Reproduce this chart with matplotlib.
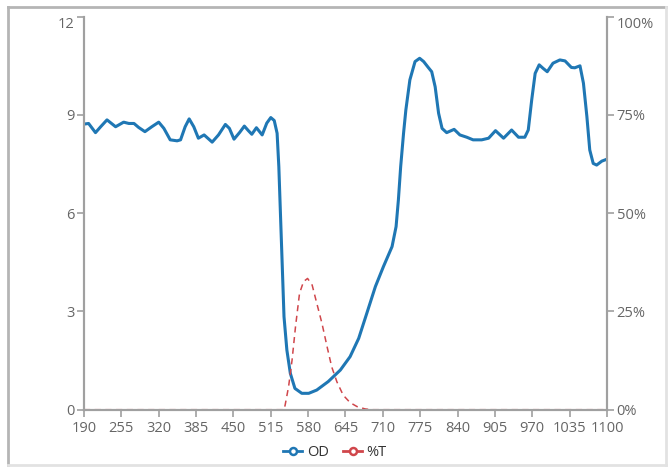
import matplotlib
matplotlib.use("Agg")
import matplotlib.pyplot as plt
from matplotlib.lines import Line2D

# OD curve (left axis)
od_wl = [190, 198, 210, 219, 230, 245, 259, 268, 277, 285, 296, 308, 320, 329, 340,
         352, 358, 366, 373, 381, 389, 399, 413, 424, 436, 443, 451, 461, 469, 476,
         482, 490, 500, 508, 515, 521, 526, 529, 532, 535, 538, 543, 549, 557, 569,
         581, 595, 615, 636, 653, 668, 682, 697, 711, 726, 733, 737, 741, 746, 750,
         757, 766, 774, 781, 789, 795, 801, 807, 813, 821, 834, 844, 856, 867, 882,
         894, 906, 920, 934, 946, 957, 963, 969, 975, 982, 989, 996, 1006, 1018,
         1027, 1038, 1044, 1053, 1059, 1065, 1070, 1076, 1082, 1091, 1100]
od_val = [8.72, 8.74, 8.46, 8.64, 8.85, 8.64, 8.78, 8.74, 8.74, 8.62, 8.49, 8.64, 8.78,
          8.59, 8.24, 8.21, 8.24, 8.64, 8.88, 8.64, 8.29, 8.39, 8.17, 8.39, 8.71, 8.59,
          8.26, 8.47, 8.66, 8.52, 8.41, 8.61, 8.39, 8.75, 8.92, 8.83, 8.44, 7.42, 5.89,
          4.37, 2.84, 1.82, 1.11, 0.65, 0.50, 0.50, 0.60, 0.86, 1.21, 1.62, 2.18, 2.94,
          3.76, 4.37, 4.98, 5.59, 6.40, 7.42, 8.44, 9.15, 10.07, 10.63, 10.73, 10.63,
          10.45, 10.32, 9.86, 9.05, 8.59, 8.46, 8.56, 8.39, 8.32, 8.24, 8.24, 8.29, 8.52,
          8.29, 8.54, 8.32, 8.32, 8.54, 9.46, 10.27, 10.53, 10.42, 10.32, 10.58, 10.68,
          10.65, 10.45, 10.44, 10.50, 9.97, 8.95, 7.93, 7.52, 7.47, 7.59, 7.65]

# %T curve (right axis)
t_wl = [190, 538, 540, 546, 552, 558, 565, 572, 579, 587, 595, 604, 613, 621, 630,
        641, 653, 665, 679, 690, 1100]
t_val = [0, 0, 1.2, 5.9, 12.6, 21.1, 29.6, 32.6, 33.4, 31.7, 27.1, 22.0, 16.0, 10.9,
         7.1, 3.7, 1.8, 0.8, 0.2, 0, 0]

x_ticks = list(range(190, 1101, 65))
od_ticks = [0, 3, 6, 9, 12]
t_ticks = [0, 25, 50, 75, 100]

blue = "#1f77b4"
red = "#d0464b"
axis_gray = "#a0a0a0"
label_gray = "#666666"

plt.rcParams["font.family"] = ["Open Sans", "DejaVu Sans"]

fig = plt.figure(figsize=(6.69, 4.70), dpi=100)
ax = fig.add_axes([84 / 669, 1 - 409.7 / 470, (607 - 84) / 669, (409.7 - 16.7) / 470])
ax2 = ax.twinx()

ax.plot(od_wl, od_val, color=blue, linewidth=2.2, zorder=3,
        solid_joinstyle="round", solid_capstyle="round")
ax2.plot(t_wl, t_val, color=red, linewidth=1.1, linestyle=(0, (4, 3)), zorder=2)

ax.set_xlim(190, 1100)
ax.set_ylim(0, 12)
ax2.set_ylim(0, 100)
ax.set_xticks(x_ticks)
ax.set_yticks(od_ticks)
ax2.set_yticks(t_ticks)
ax2.set_yticklabels([f"{t}%" for t in t_ticks])

for a in (ax, ax2):
    a.spines["top"].set_visible(False)
    for s in ("left", "right", "bottom"):
        a.spines[s].set_color(axis_gray)
        a.spines[s].set_linewidth(1.5)
    a.tick_params(colors=axis_gray, labelcolor=label_gray, labelsize=10.5,
                  length=5, width=1.2, direction="out")
ax.tick_params(axis="x", pad=3)
ax.tick_params(axis="y", pad=2)
ax2.tick_params(axis="y", pad=2)

# top labels sit just under their tick
for lab in (ax.get_yticklabels()[-1], ax2.get_yticklabels()[-1]):
    lab.set_verticalalignment("top")

handles = [
    Line2D([], [], color=blue, linewidth=2, marker="o", markersize=5,
           markerfacecolor="white", markeredgewidth=1.8),
    Line2D([], [], color=red, linewidth=2, marker="o", markersize=5,
           markerfacecolor="white", markeredgewidth=1.8),
]
fig.legend(handles, ["OD", "%T"], loc="center", bbox_to_anchor=(335 / 669, 1 - 453 / 470),
           ncol=2, frameon=False, fontsize=10.5, handlelength=1.3, handletextpad=0.3,
           columnspacing=1.0, labelcolor="#333333")

# outer frame
fig.add_artist(Line2D([8 / 669, 8 / 669], [1 - 465 / 470, 1 - 7 / 470], color="#b5b5b5",
                      linewidth=2, transform=fig.transFigure))
fig.add_artist(Line2D([8 / 669, 666 / 669], [1 - 7 / 470, 1 - 7 / 470], color="#b5b5b5",
                      linewidth=2, transform=fig.transFigure))
fig.add_artist(Line2D([666 / 669, 666 / 669], [1 - 465 / 470, 1 - 7 / 470], color="#e2e2e2",
                      linewidth=2, transform=fig.transFigure))
fig.add_artist(Line2D([8 / 669, 666 / 669], [1 - 465 / 470, 1 - 465 / 470], color="#e2e2e2",
                      linewidth=2, transform=fig.transFigure))

fig.savefig("out.png", dpi=100)
